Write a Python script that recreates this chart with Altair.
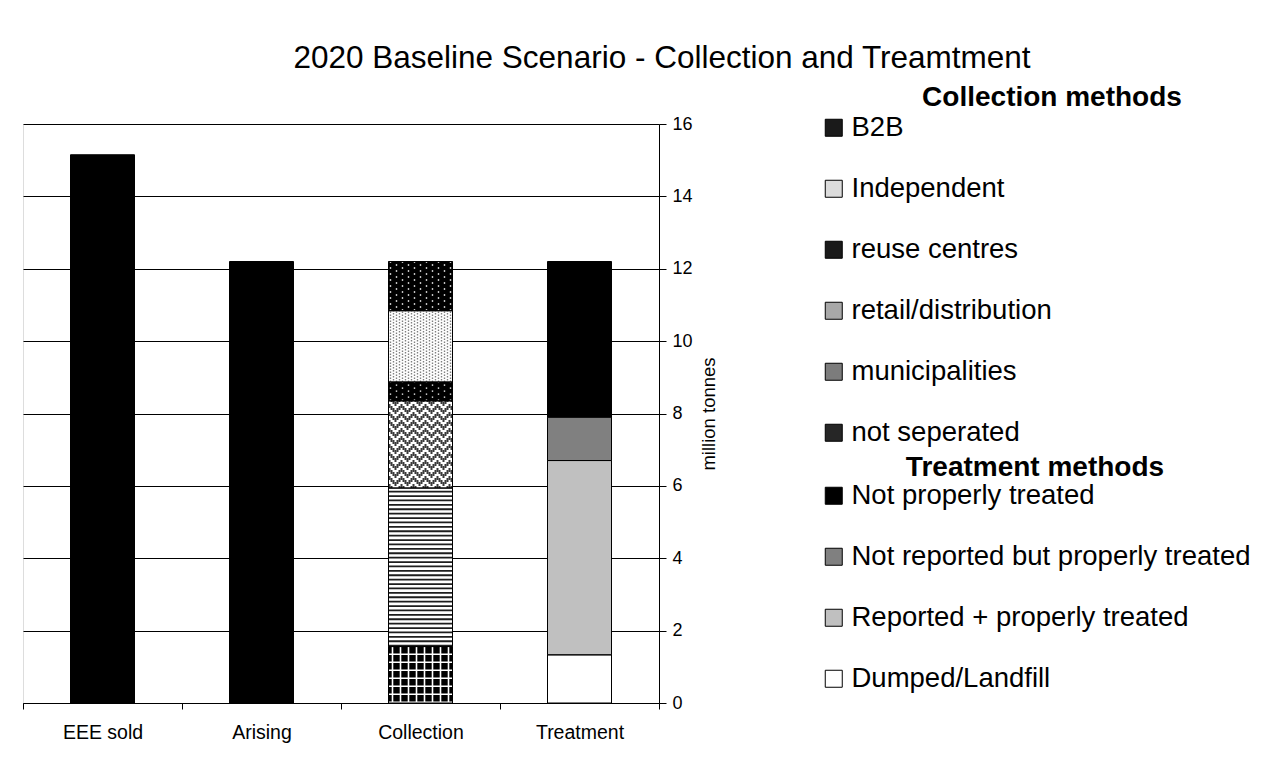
import altair as alt
import pandas as pd

# ---------------- data ----------------
categories = ["EEE sold", "Arising", "Collection", "Treatment"]

total_categories = ["EEE sold", "Arising"]
total_values = [15.15, 12.2]

# stacked from the bottom up
collection_methods = ["not seperated", "municipalities", "retail/distribution",
                      "reuse centres", "Independent", "B2B"]
collection_values = [1.56, 4.38, 2.41, 0.52, 1.97, 1.36]

treatment_methods = ["Dumped/Landfill", "Reported + properly treated",
                     "Not reported but properly treated", "Not properly treated"]
treatment_values = [1.33, 5.37, 1.20, 4.30]

y_ticks = [0, 2, 4, 6, 8, 10, 12, 14, 16]

TITLE = "2020 Baseline Scenario - Collection and Treamtment"
FONT = "Liberation Sans"


def stack(cat, names, values):
    rows, base = [], 0.0
    for n, v in zip(names, values):
        rows.append({"cat": cat, "method": n, "y0": base, "y1": base + v})
        base += v
    return pd.DataFrame(rows)


coll = stack("Collection", collection_methods, collection_values)
treat = stack("Treatment", treatment_methods, treatment_values)
totals = pd.DataFrame({"cat": total_categories, "y0": 0.0, "y1": total_values})
allseg = pd.concat([totals.assign(method="total"), coll, treat], ignore_index=True)

# ---------------- styles ----------------
coll_legend_colors = {"B2B": "#1a1a1a", "Independent": "#dcdcdc", "reuse centres": "#1a1a1a",
                      "retail/distribution": "#a8a8a8", "municipalities": "#7c7c7c",
                      "not seperated": "#262626"}
treat_colors = {"Not properly treated": "#000000", "Not reported but properly treated": "#808080",
                "Reported + properly treated": "#c0c0c0", "Dumped/Landfill": "#ffffff"}
pattern_bg = {"B2B": "#000000", "Independent": "#ffffff", "reuse centres": "#000000",
              "retail/distribution": "#ffffff", "municipalities": "#ffffff",
              "not seperated": "#000000"}
BAR_W = 64

xscale = alt.Scale(domain=categories, paddingInner=0, paddingOuter=0)
xaxis = alt.Axis(title=None, labelFontSize=19.5, labelPadding=14, tickSize=6, tickBand="extent",
                 domainColor="black", tickColor="black", labelColor="black", grid=False,
                 labelAngle=0, labelFont=FONT)
yscale = alt.Scale(domain=[0, 16], nice=False, zero=True)
yaxis = alt.Axis(orient="right", values=y_ticks, title="million tonnes", titleAngle=270,
                 titleFontSize=18.5, titleFontWeight="normal", titleColor="black", titleFont=FONT,
                 labelFontSize=18, labelColor="black", labelFont=FONT, tickSize=7, tickColor="black",
                 domainColor="black", grid=True, gridColor="black", gridWidth=1, labelPadding=6,
                 titlePadding=26)

X = alt.X("cat:N", scale=xscale, axis=xaxis)
Y = alt.Y("y0:Q", scale=yscale, axis=yaxis)
Y2 = alt.Y2("y1:Q")

legend_common = dict(orient="none", legendX=797, padding=0, symbolType="square", symbolSize=289,
                     symbolStrokeColor="black", symbolStrokeWidth=1, labelFontSize=27.5,
                     labelFont=FONT, labelColor="black", labelOffset=4, rowPadding=32,
                     titleFontSize=28, titleFont=FONT, titleFontWeight="bold", titleColor="black",
                     labelLimit=800, titleLimit=800)

coll_legend_order = list(reversed(collection_methods))
treat_legend_order = list(reversed(treatment_methods))

layers = []

# totals
layers.append(alt.Chart(totals).mark_bar(width=BAR_W, color="black").encode(x=X, y=Y, y2=Y2))

# collection (legend colours)
layers.append(alt.Chart(coll).mark_bar(width=BAR_W).encode(
    x=X, y=Y, y2=Y2,
    fill=alt.Fill("method:N",
                  scale=alt.Scale(domain=coll_legend_order,
                                  range=[coll_legend_colors[m] for m in coll_legend_order]),
                  legend=alt.Legend(title="Collection methods", legendY=-40, titleAnchor="end",
                                    titleAlign="center", titlePadding=2, **legend_common))))

# treatment
layers.append(alt.Chart(treat).mark_bar(width=BAR_W).encode(
    x=X, y=Y, y2=Y2,
    fill=alt.Fill("method:N",
                  scale=alt.Scale(domain=treat_legend_order,
                                  range=[treat_colors[m] for m in treat_legend_order]),
                  legend=alt.Legend(title="Treatment methods", legendY=330, titleAnchor="middle",
                                    titleAlign="center", titlePadding=0, **legend_common))))

# pattern backgrounds
coll_bg = coll.assign(bg=coll["method"].map(pattern_bg))
layers.append(alt.Chart(coll_bg).mark_bar(width=BAR_W).encode(
    x=X, y=Y, y2=Y2, color=alt.Color("bg:N", scale=None)))


def sel(methods):
    return coll[coll["method"].isin(methods)]


def columns(df, offsets, width, color, dash=None, dash_offsets=None):
    out = []
    for i, off in enumerate(offsets):
        kw = dict(xOffset=off, strokeWidth=width, color=color)
        if dash is not None:
            kw["strokeDash"] = dash
            kw["strokeDashOffset"] = dash_offsets[i] if dash_offsets else 0
        out.append(alt.Chart(df).mark_rule(**kw).encode(x=X, y=Y, y2=Y2))
    return out


# municipalities: horizontal stripes
layers += columns(sel(["municipalities"]), [0], BAR_W, "#1e1e1e", [1.8, 2.6])
# not seperated: black with white grid
ns = sel(["not seperated"])
layers += columns(ns, [0], BAR_W, "white", [1.6, 6.4])
layers += columns(ns, [-28, -20, -12, -4, 4, 12, 20, 28], 1.6, "white")
# B2B / reuse centres: black with white dots
dot_offs = list(range(-30, 31, 6))
layers += columns(sel(["B2B", "reuse centres"]), dot_offs, 1.4, "white", [1.4, 4.6],
                  [0 if i % 2 == 0 else 3 for i in range(len(dot_offs))])
# Independent: light dotted
ind_offs = list(range(-30, 31, 3))
layers += columns(sel(["Independent"]), ind_offs, 1.4, "#808080", [1.4, 1.6],
                  [0 if i % 2 == 0 else 1.5 for i in range(len(ind_offs))])
# retail/distribution: zig-zag weave
ret_offs = list(range(-31, 32, 2))
tri = [0, 2, 4, 6, 4, 2]
layers += columns(sel(["retail/distribution"]), ret_offs, 2, "#3a3a3a", [4, 4],
                  [tri[i % 6] for i in range(len(ret_offs))])

# outlines
layers.append(alt.Chart(allseg).mark_bar(width=BAR_W, fill="transparent", stroke="black",
                                         strokeWidth=1).encode(x=X, y=Y, y2=Y2))

chart = alt.layer(*layers).resolve_scale(fill="independent").properties(
    width=636, height=579,
    padding={"left": 14, "top": 34, "right": 5, "bottom": 3},
    title=alt.TitleParams(TITLE, fontSize=31.5, fontWeight="normal", font=FONT, color="black",
                          anchor="middle", frame="group", dx=321, offset=10),
).configure_view(stroke="#808080", strokeWidth=1).configure(font=FONT)

chart.save("out.html", embed_options={"renderer": "svg", "actions": False})
